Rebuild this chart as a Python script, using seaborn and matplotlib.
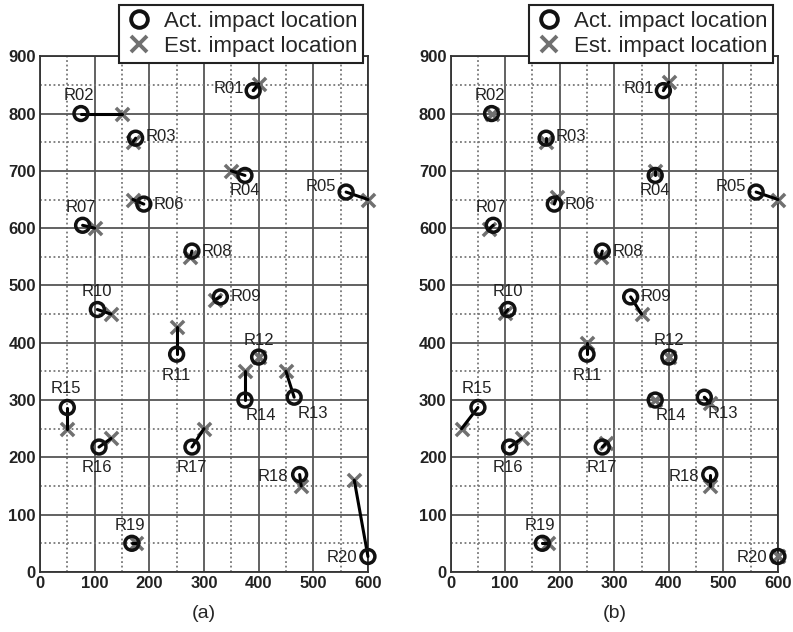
import matplotlib
matplotlib.use("Agg")
import matplotlib.pyplot as plt
import pandas as pd
import seaborn as sns
from matplotlib.lines import Line2D
from matplotlib.ticker import MultipleLocator

labels = [f"R{i:02d}" for i in range(1, 21)]

# actual impact locations (same in both panels)
act_x = [390, 75, 175, 375, 560, 190, 78, 278, 330, 105,
         250, 400, 465, 375, 50, 108, 278, 475, 168, 600]
act_y = [840, 800, 757, 692, 663, 642, 605, 560, 480, 458,
         380, 375, 305, 300, 287, 218, 218, 170, 50, 27]

# estimated locations, panel (a)
est_a_x = [400, 150, 170, 350, 600, 170, 100, 275, 320, 130,
           250, 400, 450, 375, 50, 130, 300, 478, 175, 575]
est_a_y = [852, 800, 750, 700, 650, 650, 600, 550, 475, 450,
           427, 375, 350, 350, 250, 233, 250, 150, 50, 160]

# estimated locations, panel (b)
est_b_x = [400, 75, 175, 375, 600, 195, 70, 275, 350, 100,
           250, 400, 475, 375, 20, 130, 285, 475, 178, 600]
est_b_y = [855, 800, 750, 700, 650, 655, 598, 550, 450, 452,
           400, 375, 295, 300, 250, 233, 225, 150, 50, 27]

# label placement (pixel offsets from the actual point)
label_pos = {
    "R01": (-9, 2, "right", "center"), "R02": (-2, 18, "center", "center"),
    "R03": (10, 2, "left", "center"), "R04": (0, -15, "center", "center"),
    "R05": (-10, 6, "right", "center"), "R06": (10, 0, "left", "center"),
    "R07": (-2, 18, "center", "center"), "R08": (10, 0, "left", "center"),
    "R09": (10, 0, "left", "center"), "R10": (0, 18, "center", "center"),
    "R11": (0, -21, "center", "center"), "R12": (0, 17, "center", "center"),
    "R13": (19, -16, "center", "center"), "R14": (16, -15, "center", "center"),
    "R15": (-1, 19, "center", "center"), "R16": (-2, -20, "center", "center"),
    "R17": (0, -20, "center", "center"), "R18": (-11, -2, "right", "center"),
    "R19": (-2, 18, "center", "center"), "R20": (-11, -1, "right", "center"),
}

sns.set_style("white")
plt.rcParams["font.family"] = ["Liberation Sans", "DejaVu Sans"]

fig = plt.figure(figsize=(7.93, 6.32), dpi=100)
ax_a = fig.add_axes([0.0504, 0.095, 0.4136, 0.816])
ax_b = fig.add_axes([0.5683, 0.095, 0.4127, 0.816])

panels = [(ax_a, est_a_x, est_a_y, "(a)", 0.458),
          (ax_b, est_b_x, est_b_y, "(b)", 0.975)]

for ax, ex, ey, cap, leg_x in panels:
    df = pd.DataFrame({"name": labels, "px": act_x, "py": act_y, "ex": ex, "ey": ey})

    ax.set_axisbelow(True)
    ax.xaxis.set_major_locator(MultipleLocator(100))
    ax.yaxis.set_major_locator(MultipleLocator(100))
    ax.xaxis.set_minor_locator(MultipleLocator(50))
    ax.yaxis.set_minor_locator(MultipleLocator(50))
    ax.grid(which="major", color="#555555", linewidth=1.3, linestyle="-")
    ax.grid(which="minor", color="#777777", linewidth=1.3, linestyle=(0, (1, 1.5)))

    for _, r in df.iterrows():
        ax.plot([r["px"], r["ex"]], [r["py"], r["ey"]], color="black",
                linewidth=2.2, zorder=4.5, clip_on=False)

    sns.scatterplot(data=df, x="ex", y="ey", marker="x", s=90, color="#707070",
                    linewidth=2.5, ax=ax, zorder=4, clip_on=False)
    sns.scatterplot(data=df, x="px", y="py", marker="o", s=100, facecolor="none",
                    edgecolor="#111111", linewidth=2.5, ax=ax, zorder=5, clip_on=False)

    for _, r in df.iterrows():
        dx, dy, ha, va = label_pos[r["name"]]
        ax.annotate(r["name"], (r["px"], r["py"]), xytext=(dx, dy),
                    textcoords="offset pixels", ha=ha, va=va, fontsize=12,
                    color="#222222", zorder=6)

    ax.set_xlim(0, 600)
    ax.set_ylim(0, 900)
    ax.set_xlabel("")
    ax.set_ylabel("")
    ax.tick_params(which="both", length=0, labelsize=12, pad=3)
    for t in ax.get_xticklabels() + ax.get_yticklabels():
        t.set_fontweight("bold")
        t.set_color("#222222")
    for s in ax.spines.values():
        s.set_color("#333333")
        s.set_linewidth(1.3)

    handles = [
        Line2D([], [], marker="o", linestyle="none", markersize=12, markerfacecolor="none",
               markeredgecolor="#111111", markeredgewidth=2.8, label="Act. impact location"),
        Line2D([], [], marker="x", linestyle="none", markersize=12, color="#707070",
               markeredgewidth=2.8, label="Est. impact location"),
    ]
    leg = ax.legend(handles=handles, loc="upper right", bbox_to_anchor=(leg_x, 0.992),
                    bbox_transform=fig.transFigure, borderaxespad=0, fontsize=16,
                    frameon=True, fancybox=False, framealpha=1, handletextpad=0.5,
                    borderpad=0.25, labelspacing=0.2, handlelength=1.3)
    leg.get_frame().set_edgecolor("#222222")
    leg.get_frame().set_linewidth(1.5)
    leg.set_zorder(10)

    fig.text((ax.get_position().x0 + ax.get_position().x1) / 2, 0.03, cap,
             ha="center", va="center", fontsize=14)

fig.savefig("out.png", dpi=100)
